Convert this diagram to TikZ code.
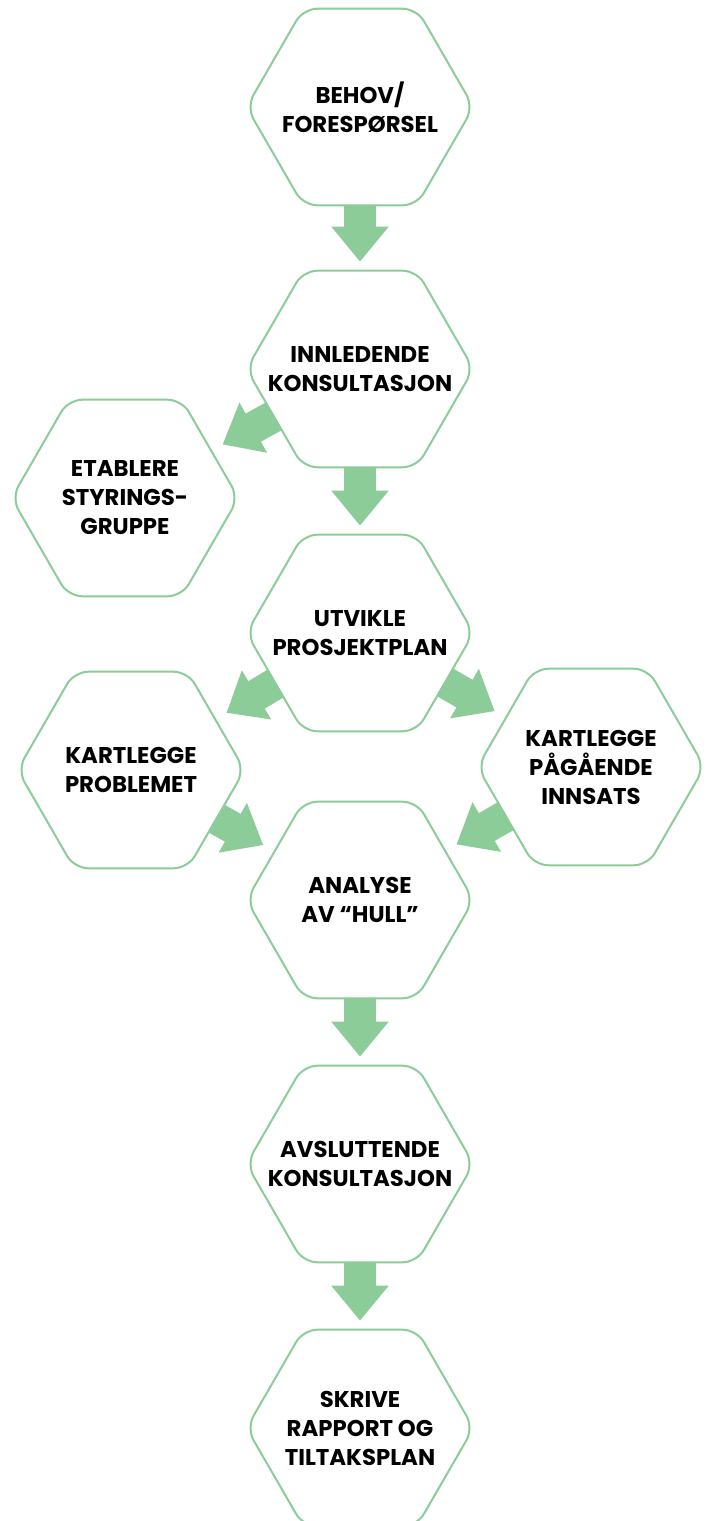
\documentclass[tikz,border=0pt]{standalone}
\usepackage{fontspec}
\setmainfont{Poppins}
\usepackage{xcolor}
\usetikzlibrary{shapes.geometric,arrows.meta}

\definecolor{hexgreen}{RGB}{140,204,152}
\pgfdeclarelayer{background}
\pgfsetlayers{background,main}

\begin{document}
\begin{tikzpicture}[x=0.5pt,y=-0.5pt,
    hexa/.style={regular polygon, regular polygon sides=6, minimum size=113.5pt,
      inner sep=0pt, draw=hexgreen, line width=1pt, fill=white, rounded corners=7pt},
    hextext/.style={font=\bfseries\fontsize{11.4}{14.5}\selectfont, align=center},
    flow/.style={draw=hexgreen, line width=16pt,
      -{Triangle[width=27.5pt,length=17.5pt]}, shorten >=4pt, shorten <=-6pt}]
			\useasboundingbox (0,0) rectangle (707,1521);

			% Hexagons of the main line
			\node[hexa] (behov) at (360,107) {};
			\node[hexa] (innled) at (360,369) {};
			\node[hexa] (utvikle) at (360,633) {};
			\node[hexa] (analyse) at (360,900) {};
			\node[hexa] (avslutt) at (360,1164) {};
			\node[hexa] (skrive) at (360,1428) {};

			% Hexagons on the sides
			\node[hexa] (styring) at (125,498) {};
			\node[hexa] (problem) at (131,770) {};
			\node[hexa] (innsats) at (591,767) {};

			% Texts
			\node[hextext] at (behov) {BEHOV/\\FORESPØRSEL};
			\node[hextext] at (innled) {INNLEDENDE\\KONSULTASJON};
			\node[hextext] at (utvikle) {UTVIKLE\\PROSJEKTPLAN};
			\node[hextext] at (analyse) {ANALYSE\\AV “HULL”};
			\node[hextext] at (avslutt) {AVSLUTTENDE\\KONSULTASJON};
			\node[hextext] at (skrive) {SKRIVE\\RAPPORT OG\\TILTAKSPLAN};
			\node[hextext] at (styring) {ETABLERE\\STYRINGS-\\GRUPPE};
			\node[hextext] at (problem) {KARTLEGGE\\PROBLEMET};
			\node[hextext] at (innsats) {KARTLEGGE\\PÅGÅENDE\\INNSATS};

			% Arrows behind the hexagons
			\begin{pgfonlayer}{background}
				\draw[flow] (behov) -- (innled);
				\draw[flow] (innled) -- (utvikle);
				\draw[flow, shorten >=6pt] (innled) -- (styring);
				\draw[flow, shorten >=6pt] (utvikle) -- (problem);
				\draw[flow, shorten >=6pt] (utvikle) -- (innsats);
				\draw[flow, shorten >=6pt] (problem) -- (analyse);
				\draw[flow, shorten >=6pt] (innsats) -- (analyse);
				\draw[flow] (analyse) -- (avslutt);
				\draw[flow] (avslutt) -- (skrive);
			\end{pgfonlayer}
		\end{tikzpicture}
\end{document}
